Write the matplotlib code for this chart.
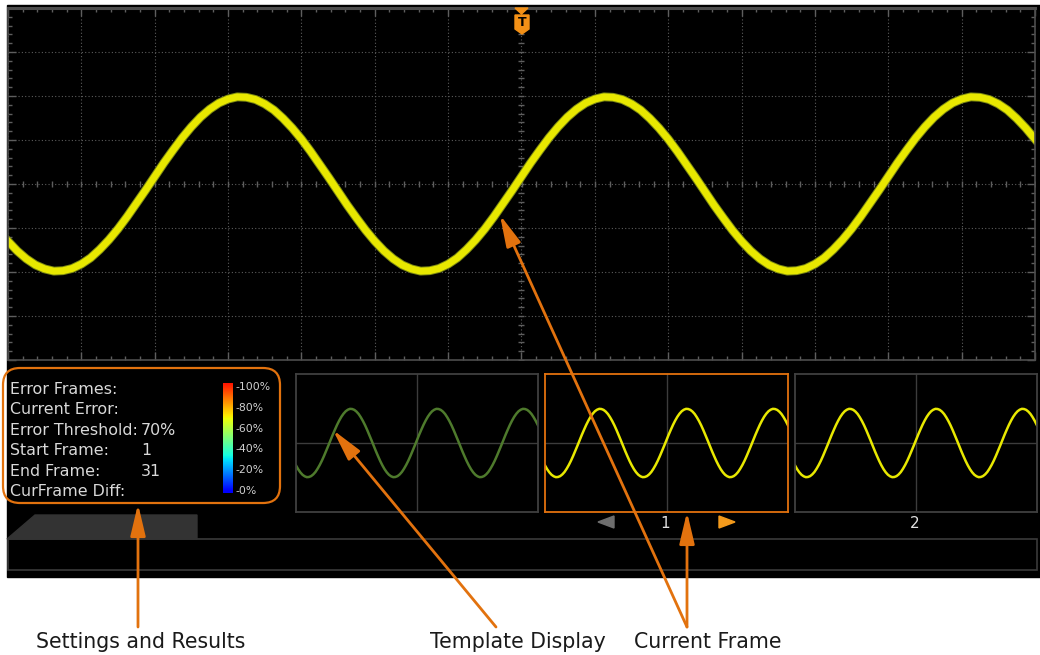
import numpy as np
import matplotlib.pyplot as plt
from matplotlib.patches import Rectangle, Polygon, FancyBboxPatch

# CH1 trace, in divisions (14 x 8 grid), one value every 0.125 div
t_div = np.arange(-7, 7.001, 0.125)
ch1 = [-1.30, -1.52, -1.70, -1.84, -1.93, -1.98, -1.97, -1.92, -1.82, -1.68,
       -1.49, -1.27, -1.02, -0.74, -0.44, -0.14, 0.17, 0.48, 0.77, 1.05,
       1.30, 1.52, 1.70, 1.84, 1.93, 1.98, 1.97, 1.92, 1.82, 1.68,
       1.49, 1.27, 1.02, 0.74, 0.44, 0.14, -0.17, -0.48, -0.77, -1.05,
       -1.30, -1.52, -1.70, -1.84, -1.93, -1.98, -1.97, -1.92, -1.82, -1.68,
       -1.49, -1.27, -1.02, -0.74, -0.44, -0.14, 0.17, 0.48, 0.77, 1.05,
       1.30, 1.52, 1.70, 1.84, 1.93, 1.98, 1.97, 1.92, 1.82, 1.68,
       1.49, 1.27, 1.02, 0.74, 0.44, 0.14, -0.17, -0.48, -0.77, -1.05,
       -1.30, -1.52, -1.70, -1.84, -1.93, -1.98, -1.97, -1.92, -1.82, -1.68,
       -1.49, -1.27, -1.02, -0.74, -0.44, -0.14, 0.17, 0.48, 0.77, 1.05,
       1.30, 1.52, 1.70, 1.84, 1.93, 1.98, 1.97, 1.92, 1.82, 1.68,
       1.49, 1.27, 1.02]

settings_names = ['Error Frames:', 'Current Error:', 'Error Threshold:',
                  'Start Frame:', 'End Frame:', 'CurFrame Diff:']
settings_values = ['', '', '70%', '1', '31', '']
scale_ticks = [0, 20, 40, 60, 80, 100]
scale_labels = ['-0%', '-20%', '-40%', '-60%', '-80%', '-100%']
frame_labels = ['1', '2']
callouts = ['Settings and Results', 'Template Display', 'Current Frame']

W, H = 1040, 655
ORANGE = '#e2720e'
YELLOW = '#e8e800'
fig = plt.figure(figsize=(W / 100, H / 100), dpi=100, facecolor='white')


def px_axes(x0, y0, x1, y1, **kw):
    return fig.add_axes([x0 / W, 1 - y1 / H, (x1 - x0) / W, (y1 - y0) / H], **kw)


# background: black screen, bottom bar, tab
bg = px_axes(0, 0, W, H)
bg.set_xlim(0, W)
bg.set_ylim(H, 0)
bg.axis('off')
bg.add_patch(Rectangle((7, 5), W - 7, 572, color='black'))
bg.add_patch(Rectangle((8, 539), 1029, 31, fill=False, ec='#3a3a3a', lw=1.2))
bg.add_patch(Polygon([(7, 539), (35, 515), (197, 515), (197, 539)], color='#333333'))

# main waveform screen
ax = px_axes(8, 8, 1035, 360)
ax.set_facecolor('black')
ax.set_xlim(-7, 7)
ax.set_ylim(-4, 4)
ax.set_xticks(np.arange(-7, 8, 1))
ax.set_yticks(np.arange(-4, 5, 1))
minor_x = np.arange(-7, 7.01, 0.2)
minor_y = np.arange(-4, 4.01, 0.2)
ax.set_xticks(minor_x, minor=True)
ax.set_yticks(minor_y, minor=True)
ax.tick_params(which='both', direction='in', top=True, right=True, color='#5e5e5e',
               labelbottom=False, labelleft=False, width=1)
ax.tick_params(which='major', length=6)
ax.tick_params(which='minor', length=3)
ax.grid(which='major', color='#5c5c5c', linestyle=(0, (1, 2)), lw=0.8)
for s in ax.spines.values():
    s.set_color('#4d4d4d')
    s.set_linewidth(1.2)
ax.spines['top'].set_linewidth(2.2)
ax.plot(minor_x, np.zeros_like(minor_x), ls='none', marker='|', ms=5, mew=1, color='#5e5e5e')
ax.plot(np.zeros_like(minor_y), minor_y, ls='none', marker='_', ms=5, mew=1, color='#5e5e5e')
ax.plot(t_div, ch1, color='#7d8a12', lw=6.4)
ax.plot(t_div, ch1, color=YELLOW, lw=5.0)

# thumbnails: template + frames 1, 2
thumbs = [((296, 374, 538, 512), '#4e7a2c', '#404040'),
          ((545, 374, 788, 512), YELLOW, ORANGE),
          ((795, 374, 1037, 512), YELLOW, '#404040')]
for (x0, y0, x1, y1), trace_col, edge in thumbs:
    th = px_axes(x0, y0, x1, y1)
    th.set_facecolor('black')
    th.set_xlim(-7, 7)
    th.set_ylim(-4, 4)
    th.set_xticks([])
    th.set_yticks([])
    th.axhline(0, color='#3c3c3c', lw=1)
    th.axvline(0, color='#3c3c3c', lw=1)
    th.plot(t_div, ch1, color=trace_col, lw=1.8)
    for s in th.spines.values():
        s.set_color(edge)
        s.set_linewidth(1.3)

# error colour scale
cax = px_axes(223, 383, 233, 493)
cax.imshow(np.linspace(0.11, 0.89, 256)[:, None], cmap='jet', vmin=0, vmax=1,
           aspect='auto', origin='lower', extent=[0, 1, -3, 103])
cax.set_ylim(-3, 103)
cax.set_xticks([])
cax.set_yticks(scale_ticks)
cax.set_yticklabels(scale_labels)
cax.tick_params(axis='y', left=False, right=False, labelleft=False, labelright=True,
                length=0, pad=2, labelsize=7.8, labelcolor='#d0d0d0')
for s in cax.spines.values():
    s.set_visible(False)

# overlay: texts, trigger marker, callouts
ov = px_axes(0, 0, W, H, zorder=10)
ov.set_xlim(0, W)
ov.set_ylim(H, 0)
ov.axis('off')

for i, (name, val) in enumerate(zip(settings_names, settings_values)):
    y = 389 + i * 20.6
    ov.text(10, y, name, color='#d9d9d9', fontsize=11.4, va='center')
    if val:
        ov.text(141, y, val, color='#d9d9d9', fontsize=11.4, va='center')

ov.add_patch(Polygon([(598, 522), (614, 516), (614, 528)], color='#6e6e6e'))
ov.add_patch(Polygon([(735, 522), (719, 516), (719, 528)], color='#f39a1c'))
for x, lab in zip([665, 915], frame_labels):
    ov.text(x, 523, lab, color='#e0e0e0', fontsize=11, ha='center', va='center')

# trigger marker
ov.add_patch(Polygon([(515, 8), (528, 8), (521.5, 14)], color='#f39016'))
ov.add_patch(Polygon([(515, 15), (529, 15), (529, 29), (522, 34), (515, 29)], color='#f39016'))
ov.text(522, 23, 'T', color='black', fontsize=9, fontweight='bold', ha='center', va='center')

ov.add_patch(FancyBboxPatch((3, 368), 277, 135, boxstyle='round,pad=0,rounding_size=17',
                            fill=False, ec=ORANGE, lw=1.6))

arrow = dict(arrowstyle='-|>,head_length=1.6,head_width=0.38', color=ORANGE, lw=2,
             mutation_scale=12, shrinkA=0, shrinkB=0)
ov.annotate('', xy=(138, 504), xytext=(138, 627), arrowprops=arrow)
ov.annotate('', xy=(333, 430), xytext=(496, 627), arrowprops=arrow)
ov.annotate('', xy=(687, 512), xytext=(687, 627), arrowprops=arrow)
ov.annotate('', xy=(500, 215), xytext=(687, 627), arrowprops=arrow)

for x, lab in zip([141, 518, 708], callouts):
    ov.text(x, 642, lab, color='#1a1a1a', fontsize=14.8, ha='center', va='center')

fig.savefig('out.png', dpi=100, facecolor='white')
